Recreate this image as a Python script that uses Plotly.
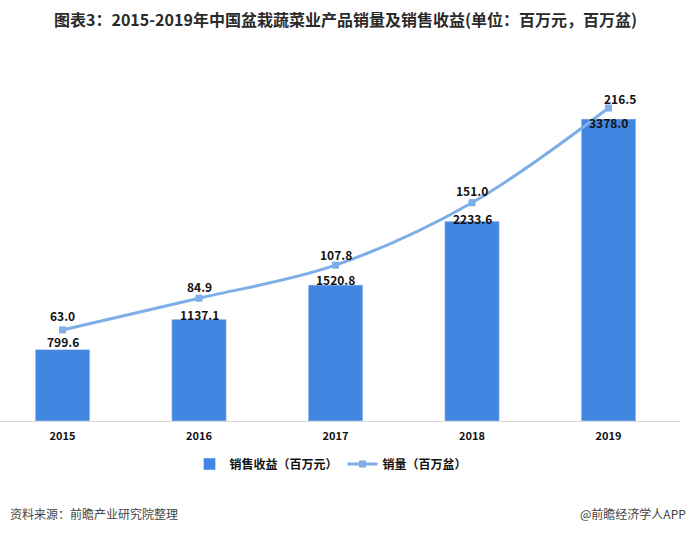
import plotly.graph_objects as go

years = ["2015", "2016", "2017", "2018", "2019"]
revenue = [799.6, 1137.1, 1520.8, 2233.6, 3378.0]
volume = [63.0, 84.9, 107.8, 151.0, 216.5]

title = "图表3：2015-2019年中国盆栽蔬菜业产品销量及销售收益(单位：百万元，百万盆)"
bar_name = "<b>销售收益（百万元）</b>"
line_name = "<b>销量（百万盆）</b>"
source = "资料来源：前瞻产业研究院整理"
brand = "@前瞻经济学人APP"

FONT = "Noto Sans CJK SC"
BAR_C = "#4186E0"
LINE_C = "#7DAEE8"

W, H = 691, 533
ML, MR, MT, MB = 0, 10, 60, 112

# label offsets (pixels) as seen in the reference
bar_label_shift = [8, 5, 6, 3, -3]
line_label_shift = [14, 12, 11, 12, 10]
line_label_xshift = [0, 0, 0, 0, 11]

fig = go.Figure()
fig.add_trace(go.Bar(
    x=years, y=revenue, name=bar_name, marker_color=BAR_C, width=0.4,
))
fig.add_trace(go.Scatter(
    x=years, y=volume, name=line_name, yaxis="y2", mode="lines+markers",
    line=dict(color=LINE_C, width=3, shape="spline"),
    marker=dict(symbol="square", size=7, color=LINE_C),
    cliponaxis=False,
))

plot_h = H - MT - MB
plot_w = W - ML - MR
def px_to_paper(px, py):
    return (px - ML) / plot_w, (H - MB - py) / plot_h

ax, ay = px_to_paper(345, 19)
bx, by = px_to_paper(8, 513)
cx, cy = px_to_paper(688, 513)
lx, ly = px_to_paper(331, 464)

annotations = [
    dict(text="<b>" + title + "</b>", x=ax, y=ay, xref="paper", yref="paper",
         xanchor="center", yanchor="middle", showarrow=False,
         font=dict(family=FONT, size=16, color="#2a2a2a")),
    dict(text=source, x=bx, y=by, xref="paper", yref="paper", xanchor="left",
         yanchor="middle", showarrow=False, font=dict(family=FONT, size=12, color="#444444")),
    dict(text=brand, x=cx, y=cy, xref="paper", yref="paper", xanchor="right",
         yanchor="middle", showarrow=False, font=dict(family=FONT, size=12, color="#444444")),
]
for i, (v, s) in enumerate(zip(revenue, bar_label_shift)):
    annotations.append(dict(text=f"<b>{v:.1f}</b>", x=i, y=v, xref="x", yref="y",
                            yshift=s, showarrow=False, yanchor="middle",
                            font=dict(family=FONT, size=12, color="#111111")))
for i, (v, s, xs) in enumerate(zip(volume, line_label_shift, line_label_xshift)):
    annotations.append(dict(text=f"<b>{v:.1f}</b>", x=i, y=v, xref="x", yref="y2",
                            yshift=s, xshift=xs, showarrow=False, yanchor="middle",
                            font=dict(family=FONT, size=12, color="#111111")))

fig.update_layout(
    width=W, height=H,
    margin=dict(l=ML, r=MR, t=MT, b=MB),
    paper_bgcolor="white", plot_bgcolor="white",
    font=dict(family=FONT, color="#111111"),
    showlegend=True,
    legend=dict(orientation="h", x=lx, xanchor="center", y=ly, yanchor="middle",
                font=dict(family=FONT, size=12, color="#111111"), traceorder="normal"),
    xaxis=dict(type="category", range=[-0.458, 4.531], showgrid=False, showline=True,
               linecolor="#D9D9D9", linewidth=1, ticks="",
               tickfont=dict(family=FONT, size=11, color="#111111"),
               tickvals=years, ticktext=["<b>" + y + "</b>" for y in years],
               ticklabelstandoff=5, fixedrange=True),
    yaxis=dict(range=[0, 4038], visible=False, showgrid=False),
    yaxis2=dict(range=[0, 249.7], overlaying="y", side="right", visible=False, showgrid=False),
    annotations=annotations,
)

fig.write_html("out.html", config={"displayModeBar": False},
               post_script="document.body.style.margin='0';")
